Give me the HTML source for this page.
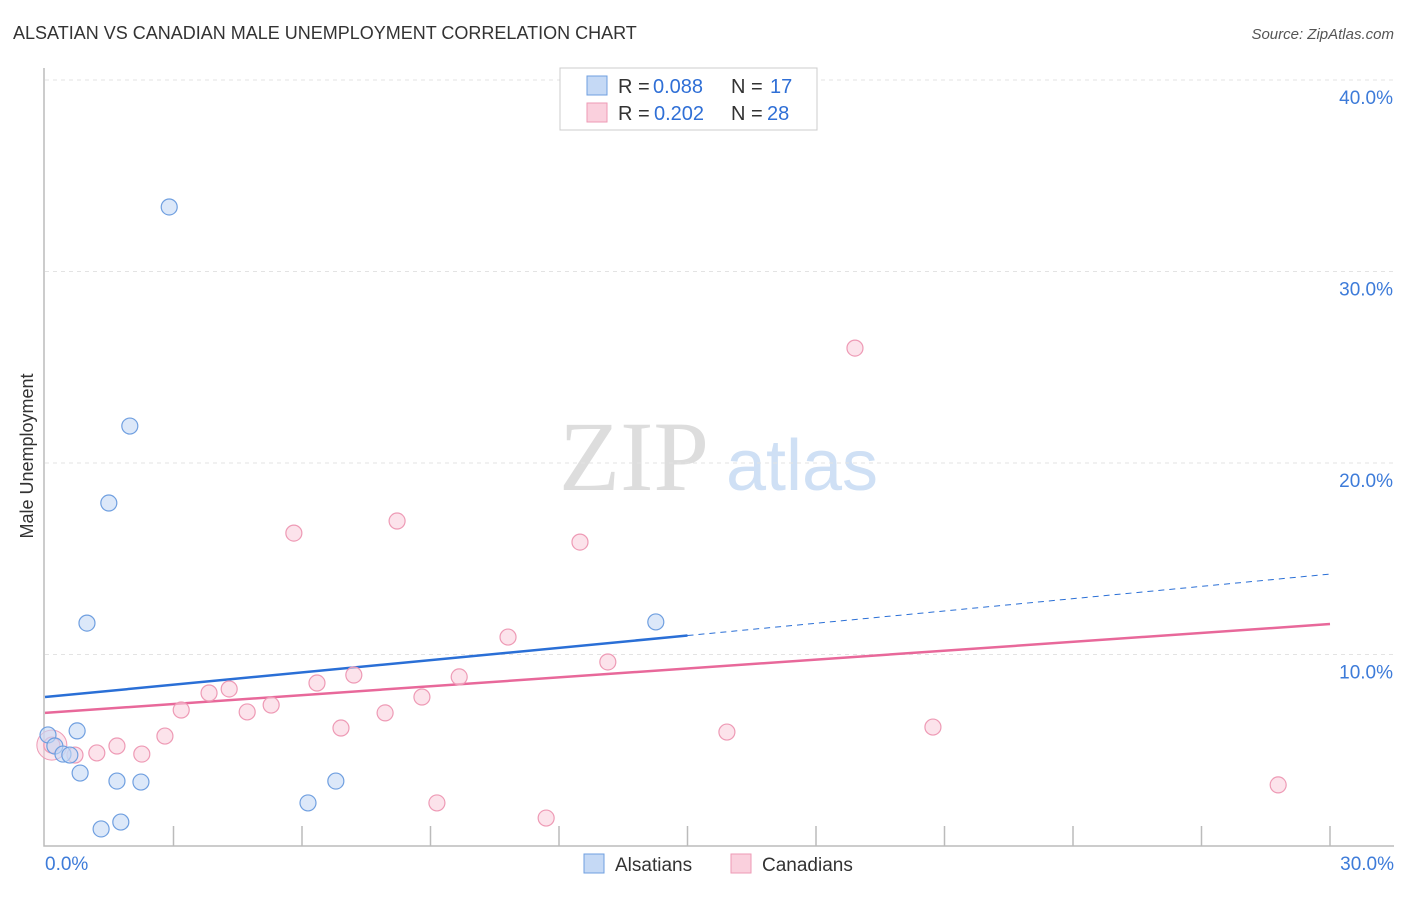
<!DOCTYPE html>
<html><head><meta charset="utf-8"><style>
body{margin:0;background:#fff;font-family:"Liberation Sans",sans-serif}
svg text{font-family:"Liberation Sans",sans-serif}
</style></head><body>
<svg id="c" width="1406" height="892" xmlns="http://www.w3.org/2000/svg">
<text x="13" y="39" font-size="18" fill="#333">ALSATIAN VS CANADIAN MALE UNEMPLOYMENT CORRELATION CHART</text>
<text x="1394" y="39" font-size="15" fill="#555" text-anchor="end" font-style="italic">Source: ZipAtlas.com</text>
<text x="33" y="456" font-size="18" fill="#333" text-anchor="middle" transform="rotate(-90 33 456)">Male Unemployment</text>
<g><text x="634" y="490" font-size="100" fill="#ddd" style="font-family:'Liberation Serif',serif" text-anchor="middle">ZIP</text><text x="802" y="490" font-size="72" fill="#cfe0f5" text-anchor="middle">atlas</text></g>
<g id="grid"></g><g id="lines"></g><g id="pts"></g>
<g>
<rect x="560" y="68" width="257" height="62" fill="#fff" stroke="#ccc"/>
<rect x="587" y="76" width="20" height="19" fill="#c5d9f5" stroke="#6f9fe0"/>
<rect x="587" y="103" width="20" height="19" fill="#fad0dd" stroke="#ee9ab5"/>
<text x="618" y="93" font-size="20" fill="#333">R =</text><text x="653" y="93" font-size="20" fill="#2f6fd6">0.088</text>
<text x="731" y="93" font-size="20" fill="#333">N =</text><text x="770" y="93" font-size="20" fill="#2f6fd6">17</text>
<text x="618" y="120" font-size="20" fill="#333">R =</text><text x="654" y="120" font-size="20" fill="#2f6fd6">0.202</text>
<text x="731" y="120" font-size="20" fill="#333">N =</text><text x="767" y="120" font-size="20" fill="#2f6fd6">28</text>
</g>
<g>
<rect x="584" y="854" width="20" height="19" fill="#c5d9f5" stroke="#6f9fe0"/><text x="615" y="871" font-size="19" fill="#333">Alsatians</text>
<rect x="731" y="854" width="20" height="19" fill="#fad0dd" stroke="#ee9ab5"/><text x="762" y="871" font-size="19" fill="#333">Canadians</text>
</g>
</svg>
<script>
const yTicks=[10,20,30,40];
const blueX=[2.90,1.98,1.49,0.98,14.26,0.07,0.23,0.75,0.42,0.58,0.82,1.68,2.24,6.79,6.14,1.77,1.31];
const blueY=[33.37,21.93,17.91,11.64,11.70,5.80,5.22,6.01,4.80,4.75,3.81,3.39,3.34,3.39,2.25,1.25,0.89];
const pinkX=[18.91,5.81,8.22,12.49,10.81,13.14,7.21,6.35,9.67,4.30,3.83,8.80,5.28,3.18,4.72,7.94,6.91,2.80,1.68,1.21,2.26,15.92,20.73,9.15,11.70,28.79,0.16,0.70];
const pinkY=[26.0,16.34,16.97,15.87,10.91,9.61,8.93,8.51,8.83,8.20,7.99,7.78,7.36,7.10,7.00,6.95,6.16,5.74,5.22,4.86,4.80,5.95,6.21,2.25,1.46,3.19,5.27,4.75];
const blueTrend=[7.78,14.20];
const pinkTrend=[6.95,11.59];
const blueSolidEnd=15.0;
const X=v=>45+v/30*1285, Y=v=>846-v*19.15;
const NS="http://www.w3.org/2000/svg";
function mk(t,a,p){const e=document.createElementNS(NS,t);for(const k in a)e.setAttribute(k,a[k]);p.appendChild(e);return e;}
const g=document.getElementById('grid'),l=document.getElementById('lines'),p=document.getElementById('pts');
yTicks.forEach(t=>{
 const ln=mk('line',{x1:45,x2:1394,y1:Y(t),y2:Y(t),stroke:'#e3e3e3','stroke-dasharray':'4,4'},g);
 
 
 const tx=mk('text',{x:1393,y:Y(t)+24,'font-size':19,fill:'#3d7bd9','text-anchor':'end'},g);tx.textContent=t.toFixed(1)+'%';
 
 
});
const ax=mk('path',{d:'M44 68V846H1394',fill:'none',stroke:'#bbb','stroke-width':1.5},g);


for(let i=1;i<=10;i++){const tk=mk('line',{x1:X(i*3),x2:X(i*3),y1:826,y2:846,stroke:'#bbb','stroke-width':1.5},g);
 
 }
[[0,'0.0%','start',45],[30,'30.0%','end',1394]].forEach(a=>{const t=mk('text',{x:a[3],y:870,'font-size':19,fill:'#3d7bd9','text-anchor':a[2]},g);t.textContent=a[1];
 
 });
const by=x=>blueTrend[0]+(blueTrend[1]-blueTrend[0])*x/30, py=x=>pinkTrend[0]+(pinkTrend[1]-pinkTrend[0])*x/30;
function pts(xs,ys,f,s,name){xs.forEach((x,i)=>{const c=mk('circle',{cx:X(x),cy:Y(ys[i]),r:8,fill:f,stroke:s,'stroke-width':1.2,'fill-opacity':0.6},p);
 
 });}
const big=mk('circle',{cx:X(pinkX[26]),cy:Y(pinkY[26]),r:15,fill:'#fad0dd',stroke:'#ee9ab5','fill-opacity':0.5},p);


pts(pinkX,pinkY,'#fad0dd','#ee9ab5','canadian-point');
pts(blueX,blueY,'#c5d9f5','#6f9fe0','alsatian-point');
const b1=mk('line',{x1:X(0),y1:Y(by(0)),x2:X(blueSolidEnd),y2:Y(by(blueSolidEnd)),stroke:'#2a6fd6','stroke-width':2.5},l);


const b2=mk('line',{x1:X(blueSolidEnd),y1:Y(by(blueSolidEnd)),x2:X(30),y2:Y(by(30)),stroke:'#2a6fd6','stroke-width':1,'stroke-dasharray':'6,5'},l);


const p1=mk('line',{x1:X(0),y1:Y(py(0)),x2:X(30),y2:Y(py(30)),stroke:'#e8689a','stroke-width':2.5},l);


</script>
</body></html>
